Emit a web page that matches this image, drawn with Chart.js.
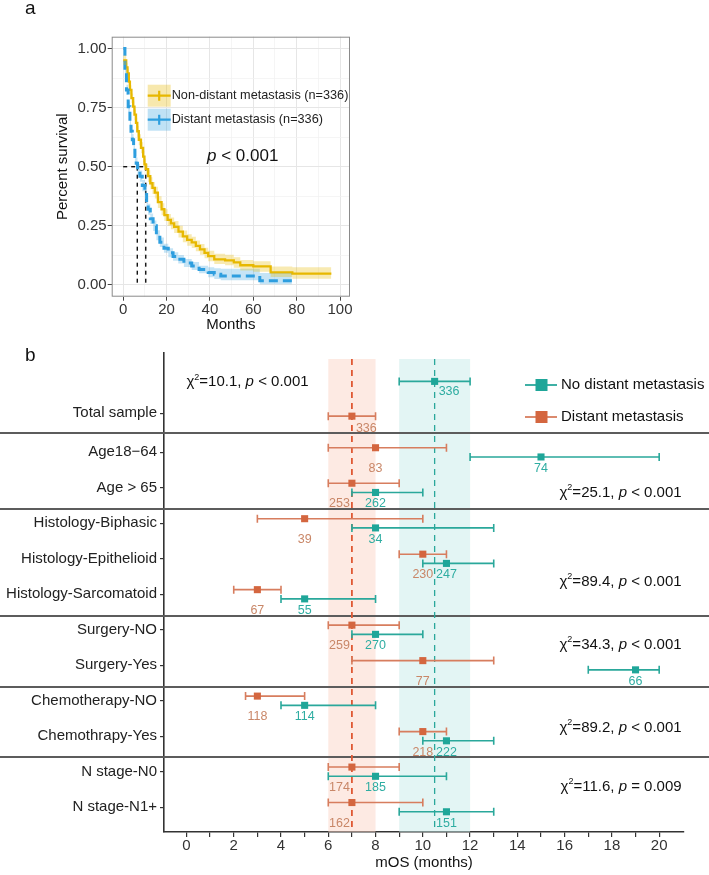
<!DOCTYPE html>
<html><head><meta charset="utf-8">
<script src="https://cdn.jsdelivr.net/npm/chart.js@4.4.1/dist/chart.umd.min.js"></script>
<style>
html,body{margin:0;padding:0;background:#fff;}
#wrap{position:relative;width:709px;height:875px;}
canvas{position:absolute;left:0;top:0;}
</style></head><body>
<div id="wrap"><canvas id="km" width="709" height="875"></canvas><canvas id="forest" width="709" height="875"></canvas></div>
<script>
// ---------------- Panel a: Kaplan-Meier data ----------------
const kmNonT  = [0, 1.4, 2.0, 2.6, 3.1, 3.8, 4.6, 5.2, 5.9, 6.5, 7.2, 8.2, 9.2, 9.8, 10.4, 11.5, 12.5, 13.5, 14.6, 16, 17.7, 19, 20.5, 22, 23.5, 25.5, 27.5, 29.5, 31.6, 33.5, 35.4, 37.5, 39.2, 42, 47, 51, 54, 60, 68, 78, 96];
const kmNonS  = [0.95, 0.92, 0.895, 0.86, 0.825, 0.79, 0.754, 0.72, 0.685, 0.65, 0.614, 0.58, 0.543, 0.51, 0.49, 0.46, 0.43, 0.41, 0.39, 0.35, 0.32, 0.295, 0.275, 0.26, 0.245, 0.225, 0.205, 0.19, 0.18, 0.165, 0.15, 0.135, 0.122, 0.108, 0.104, 0.095, 0.083, 0.078, 0.053, 0.048, 0.048];
const kmNonUp = [0.97, 0.94, 0.915, 0.88, 0.845, 0.81, 0.776, 0.742, 0.707, 0.673, 0.637, 0.603, 0.566, 0.534, 0.514, 0.485, 0.455, 0.435, 0.415, 0.375, 0.345, 0.32, 0.3, 0.285, 0.27, 0.25, 0.23, 0.214, 0.204, 0.188, 0.173, 0.157, 0.144, 0.132, 0.127, 0.117, 0.105, 0.1, 0.078, 0.075, 0.075];
const kmNonLo = [0.93, 0.9, 0.875, 0.84, 0.805, 0.77, 0.732, 0.698, 0.663, 0.627, 0.591, 0.557, 0.52, 0.486, 0.466, 0.435, 0.405, 0.385, 0.365, 0.325, 0.295, 0.27, 0.25, 0.235, 0.22, 0.2, 0.18, 0.166, 0.156, 0.142, 0.127, 0.113, 0.1, 0.088, 0.083, 0.073, 0.061, 0.056, 0.033, 0.026, 0.026];

const kmDisT  = [0, 0.8, 1.5, 2.3, 3.1, 3.6, 4.2, 4.8, 5.4, 6.0, 6.6, 7.7, 8.8, 10, 10.8, 11.5, 12.5, 13.8, 15.3, 16.9, 18.8, 20.8, 23, 25.4, 28, 31.6, 35, 39.2, 42, 45, 63, 77.8];
const kmDisS  = [1.0, 0.9, 0.825, 0.754, 0.684, 0.65, 0.614, 0.58, 0.543, 0.515, 0.487, 0.46, 0.42, 0.39, 0.35, 0.32, 0.28, 0.25, 0.21, 0.18, 0.155, 0.136, 0.12, 0.108, 0.093, 0.08, 0.065, 0.052, 0.045, 0.038, 0.017, 0.017];
const kmDisUp = [1.0, 0.92, 0.847, 0.777, 0.708, 0.674, 0.638, 0.604, 0.567, 0.539, 0.511, 0.484, 0.444, 0.414, 0.374, 0.343, 0.302, 0.272, 0.231, 0.2, 0.174, 0.155, 0.138, 0.126, 0.11, 0.097, 0.081, 0.075, 0.07, 0.068, 0.05, 0.05];
const kmDisLo = [1.0, 0.88, 0.803, 0.731, 0.66, 0.626, 0.59, 0.556, 0.519, 0.491, 0.463, 0.436, 0.396, 0.366, 0.326, 0.297, 0.258, 0.228, 0.189, 0.16, 0.136, 0.117, 0.102, 0.09, 0.076, 0.063, 0.049, 0.032, 0.025, 0.02, 0.003, 0.003];

const kmMedians = [10.4, 6.5];
const kmLegend = ['Non-distant metastasis (n=336)', 'Distant metastasis (n=336)'];
const kmPText = '< 0.001';
const kmXTicks = [0, 10, 20, 30, 40, 50, 60, 70, 80, 90, 100];
const kmYTicks = [0, 0.125, 0.25, 0.375, 0.5, 0.625, 0.75, 0.875, 1.0];

// ---------------- Panel b: forest plot data ----------------
const categories = ['Total sample', 'Age18\u221264', 'Age > 65', 'Histology-Biphasic', 'Histology-Epithelioid', 'Histology-Sarcomatoid', 'Surgery-NO', 'Surgery-Yes', 'Chemotherapy-NO', 'Chemothrapy-Yes', 'N stage-N0', 'N stage-N1+'];
const noDistMOS = [10.5, 15, 8, 8, 11, 5, 8, 19, 5, 11, 8, 11];
const noDistLo  = [9, 12, 7, 7, 10, 4, 7, 17, 4, 10, 6, 9];
const noDistHi  = [12, 20, 10, 13, 13, 8, 10, 20, 8, 13, 11, 13];
const noDistN   = [336, 74, 262, 34, 247, 55, 270, 66, 114, 222, 185, 151];
const distMOS = [7, 8, 7, 5, 10, 3, 7, 10, 3, 10, 7, 7];
const distLo  = [6, 6, 6, 3, 9, 2, 6, 7, 2.5, 9, 6, 6];
const distHi  = [8, 11, 9, 10, 11, 4, 9, 13, 5, 11, 9, 10];
const distN   = [336, 83, 253, 39, 230, 67, 259, 77, 118, 218, 174, 162];
const refMOS = [10.5, 7];   // overall median: no distant, distant
const refLo  = [9, 6];
const refHi  = [12, 8];
const groupChi = ['10.1', '25.1', '89.4', '34.3', '89.2', '11.6'];
const groupP   = ['< 0.001', '< 0.001', '< 0.001', '< 0.001', '< 0.001', '= 0.009'];
const groupLastIdx = [0, 2, 5, 7, 9, 11];
const seriesNames = ['No distant metastasis', 'Distant metastasis'];
const xTicksForest = [0,1,2,3,4,5,6,7,8,9,10,11,12,13,14,15,16,17,18,19,20];

// ---------------- layout (not data) ----------------
const rowPos = [1.9, 3, 4, 5, 6, 7, 8, 9, 10, 11, 12, 13];
const dodgeNo   = rowPos.map((r, i) => i === 0 ? -0.9 : 0.13);
const dodgeDist = rowPos.map((r, i) => i === 0 ? 0.08 : -0.13);
const alignNo   = ['left','center','center','center','center','center','center','center','center','center','center','center'];
const alignDist = ['left','center','right','center','center','center','right','center','center','center','right','right'];
const chiPos = [{x:0.0, y:1.02, align:'left'}, {x:20.95, y:4.14, align:'right'}, {x:20.95, y:6.65, align:'right'}, {x:20.95, y:8.43, align:'right'}, {x:20.95, y:10.76, align:'right'}, {x:20.95, y:12.43, align:'right'}];

const FONT = "'Liberation Sans', Arial, Helvetica, sans-serif";
Chart.defaults.font.family = FONT;
Chart.defaults.color = '#333';

const YEL = '#E7B800', BLU = '#2E9FDF';
const TEAL = '#1fa699', ORNG = '#d4663f';
const xy = (t, s) => t.map((v, i) => ({x: v, y: s[i]}));

// ======== Panel a ========
const kmDecor = {
  id: 'kmDecor',
  afterDraw(chart) {
    const {ctx, chartArea: a} = chart;
    ctx.save();
    ctx.strokeStyle = '#8a8a8a'; ctx.lineWidth = 1;
    ctx.strokeRect(a.left + 0.5, a.top + 0.5, a.right - a.left - 1, a.bottom - a.top - 1);
    // panel letter
    ctx.fillStyle = '#111'; ctx.font = '19px ' + FONT; ctx.textBaseline = 'alphabetic'; ctx.textAlign = 'left';
    ctx.fillText('a', 25, 14);
    // legend
    const cols = [[YEL, 'rgba(231,184,0,0.32)'], [BLU, 'rgba(46,159,223,0.30)']];
    const kx = a.left + 36, kw = 23, kh = 22;
    [a.top + 48, a.top + 72].forEach((ky, i) => {
      ctx.fillStyle = cols[i][1]; ctx.fillRect(kx, ky, kw, kh);
      ctx.strokeStyle = cols[i][0]; ctx.lineWidth = 2.2;
      ctx.beginPath(); ctx.moveTo(kx, ky + kh/2); ctx.lineTo(kx + kw, ky + kh/2);
      ctx.moveTo(kx + kw/2, ky + kh/2 - 5); ctx.lineTo(kx + kw/2, ky + kh/2 + 5); ctx.stroke();
      ctx.fillStyle = '#222'; ctx.font = '12.7px ' + FONT; ctx.textBaseline = 'middle'; ctx.textAlign = 'left';
      ctx.fillText(kmLegend[i], kx + kw + 1, ky + kh/2);
    });
    // p-value
    ctx.font = 'italic 17px ' + FONT; ctx.fillStyle = '#111'; ctx.textBaseline = 'middle';
    const px = 207, py = 156;
    ctx.fillText('p', px, py);
    const pw = ctx.measureText('p').width;
    ctx.font = '17px ' + FONT;
    ctx.fillText(' ' + kmPText, px + pw, py);
    ctx.restore();
  }
};

const medianSets = [];
medianSets.push({data: [{x: 0, y: 0.5}, {x: Math.max(...kmMedians), y: 0.5}]});
kmMedians.forEach(m => medianSets.push({data: [{x: m, y: 0.5}, {x: m, y: 0}]}));
medianSets.forEach(d => Object.assign(d, {borderColor: '#111', borderWidth: 1.4, borderDash: [4, 4], pointRadius: 0, fill: false}));

new Chart(document.getElementById('km'), {
  type: 'line',
  data: {
    datasets: [
      {data: xy(kmNonT, kmNonLo), stepped: true, borderWidth: 0, pointRadius: 0, fill: false},
      {data: xy(kmNonT, kmNonUp), stepped: true, borderWidth: 0, pointRadius: 0, fill: '-1', backgroundColor: 'rgba(231,184,0,0.30)'},
      {data: xy(kmDisT, kmDisLo), stepped: true, borderWidth: 0, pointRadius: 0, fill: false},
      {data: xy(kmDisT, kmDisUp), stepped: true, borderWidth: 0, pointRadius: 0, fill: '-1', backgroundColor: 'rgba(46,159,223,0.28)'},
      {data: xy(kmDisT, kmDisS), stepped: true, borderColor: BLU, borderWidth: 3, borderDash: [9, 5], pointRadius: 0, fill: false},
      {data: xy(kmNonT, kmNonS), stepped: true, borderColor: YEL, borderWidth: 2.3, pointRadius: 0, fill: false},
      ...medianSets
    ]
  },
  options: {
    responsive: false, animation: false, devicePixelRatio: 1,
    layout: {padding: {left: 54, top: 36.7, right: 359, bottom: 541}},
    plugins: {legend: {display: false}, tooltip: {enabled: false}},
    scales: {
      x: {
        type: 'linear', min: -5.3, max: 104.6,
        afterBuildTicks: s => { s.ticks = kmXTicks.map(v => ({value: v})); },
        afterFit: s => { s.height = 37.3; },
        border: {display: false},
        grid: {
          color: c => (c.tick && c.tick.value % 20 === 0) ? '#e6e6e6' : '#f1f1f1',
          lineWidth: c => (c.tick && c.tick.value % 20 === 0) ? 1 : 0.7,
          tickColor: c => (c.tick && c.tick.value % 20 === 0) ? '#444' : 'rgba(0,0,0,0)',
          tickLength: 4
        },
        ticks: {callback: v => v % 20 === 0 ? String(v) : '', font: {size: 15}, color: '#333', padding: 0, autoSkip: false, maxRotation: 0},
        title: {display: true, text: 'Months', font: {size: 15}, color: '#111', padding: 0}
      },
      y: {
        type: 'linear', min: -0.05, max: 1.05,
        afterBuildTicks: s => { s.ticks = kmYTicks.map(v => ({value: v})); },
        afterFit: s => { s.width = 57.7; },
        border: {display: false},
        grid: {
          color: c => (c.tick && Math.abs(c.tick.value * 4 - Math.round(c.tick.value * 4)) < 1e-9) ? '#e6e6e6' : '#f1f1f1',
          lineWidth: c => (c.tick && Math.abs(c.tick.value * 4 - Math.round(c.tick.value * 4)) < 1e-9) ? 1 : 0.7,
          tickColor: c => (c.tick && Math.abs(c.tick.value * 4 - Math.round(c.tick.value * 4)) < 1e-9) ? '#444' : 'rgba(0,0,0,0)',
          tickLength: 4
        },
        ticks: {callback: v => Math.abs(v * 4 - Math.round(v * 4)) < 1e-9 ? v.toFixed(2) : '', font: {size: 15}, color: '#333', padding: 1, autoSkip: false},
        title: {display: true, text: 'Percent survival', font: {size: 15}, color: '#111', padding: 0}
      }
    }
  },
  plugins: [kmDecor]
});

// ======== Panel b ========
function drawChi(ctx, x, y, chi, p, align) {
  const parts = [
    {t: '\u03C7', f: '15px ' + FONT, dy: 0},
    {t: '2', f: '9px ' + FONT, dy: -5},
    {t: '=' + chi + ', ', f: '15px ' + FONT, dy: 0},
    {t: 'p', f: 'italic 15px ' + FONT, dy: 0},
    {t: ' ' + p, f: '15px ' + FONT, dy: 0}
  ];
  let total = 0;
  parts.forEach(pt => { ctx.font = pt.f; pt.w = ctx.measureText(pt.t).width; total += pt.w; });
  let cx = align === 'right' ? x - total : x;
  ctx.textAlign = 'left'; ctx.textBaseline = 'middle'; ctx.fillStyle = '#111';
  parts.forEach(pt => { ctx.font = pt.f; ctx.fillText(pt.t, cx, y + pt.dy); cx += pt.w; });
}

const forestDecor = {
  id: 'forestDecor',
  beforeDatasetsDraw(chart) {
    const {ctx, chartArea: a, scales: {x, y}} = chart;
    ctx.save();
    // reference bands
    const bandCols = ['rgba(200,236,234,0.5)', 'rgba(252,214,200,0.5)'];
    refMOS.forEach((m, k) => {
      const x0 = x.getPixelForValue(refLo[k]), x1 = x.getPixelForValue(refHi[k]);
      ctx.fillStyle = bandCols[k];
      ctx.fillRect(x0, a.top + 6, x1 - x0, a.bottom - a.top - 6);
    });
    // group separators
    ctx.strokeStyle = '#5c5c5c'; ctx.lineWidth = 2;
    groupLastIdx.slice(0, -1).forEach((gi, k) => {
      const v = (rowPos[gi] + rowPos[gi + 1]) / 2 + (k === 0 ? 0 : 0.1);
      const py = Math.round(y.getPixelForValue(v));
      ctx.beginPath(); ctx.moveTo(0, py); ctx.lineTo(709, py); ctx.stroke();
    });
    // reference dashed lines
    const dashCols = ['#2aa79b', '#e05a35'];
    const dashW = [1.3, 1.8];
    refMOS.forEach((m, k) => {
      const px = x.getPixelForValue(m);
      ctx.strokeStyle = dashCols[k]; ctx.lineWidth = dashW[k]; ctx.setLineDash([6, 5]);
      ctx.beginPath(); ctx.moveTo(px, a.top + 6); ctx.lineTo(px, a.bottom); ctx.stroke();
    });
    ctx.setLineDash([]);
    // error bars
    const bars = [
      {lo: noDistLo, hi: noDistHi, dodge: dodgeNo, col: '#2aa89b'},
      {lo: distLo, hi: distHi, dodge: dodgeDist, col: '#d77d5e'}
    ];
    bars.forEach(b => {
      ctx.strokeStyle = b.col; ctx.lineWidth = 1.6;
      categories.forEach((c, i) => {
        const py = y.getPixelForValue(rowPos[i] + b.dodge[i]);
        const x0 = x.getPixelForValue(b.lo[i]), x1 = x.getPixelForValue(b.hi[i]);
        ctx.beginPath();
        ctx.moveTo(x0, py); ctx.lineTo(x1, py);
        ctx.moveTo(x0, py - 4); ctx.lineTo(x0, py + 4);
        ctx.moveTo(x1, py - 4); ctx.lineTo(x1, py + 4);
        ctx.stroke();
      });
    });
    ctx.restore();
  },
  afterDatasetsDraw(chart) {
    const {ctx, chartArea: a, scales: {x, y}} = chart;
    ctx.save();
    // n labels
    const sets = [
      {mos: noDistMOS, n: noDistN, dodge: dodgeNo, align: alignNo, col: '#2fada2'},
      {mos: distMOS, n: distN, dodge: dodgeDist, align: alignDist, col: '#c98768'}
    ];
    ctx.font = '12.5px ' + FONT; ctx.textBaseline = 'middle';
    sets.forEach((s, si) => {
      categories.forEach((c, i) => {
        const mx = x.getPixelForValue(s.mos[i]);
        let ly;
        if (i === 0) ly = y.getPixelForValue(rowPos[i] + s.dodge[i]) + (si === 0 ? 10 : 12);
        else ly = y.getPixelForValue(rowPos[i]) + 16;
        let lx = mx;
        if (s.align[i] === 'left') { ctx.textAlign = 'left'; lx = mx + 4; }
        else if (s.align[i] === 'right') { ctx.textAlign = 'right'; lx = mx - 2; }
        else ctx.textAlign = 'center';
        ctx.fillStyle = s.col;
        ctx.fillText(String(s.n[i]), lx, ly);
      });
    });
    // chi-square annotations
    groupChi.forEach((c, g) => {
      const pos = chiPos[g];
      drawChi(ctx, x.getPixelForValue(pos.x), y.getPixelForValue(pos.y), c, groupP[g], pos.align);
    });
    // legend
    const legCols = [TEAL, ORNG];
    const legLine = ['#2aa89b', '#d77d5e'];
    [385, 417].forEach((ly, k) => {
      ctx.strokeStyle = legLine[k]; ctx.lineWidth = 1.8;
      ctx.beginPath(); ctx.moveTo(525, ly); ctx.lineTo(557, ly); ctx.stroke();
      ctx.fillStyle = legCols[k]; ctx.fillRect(535.5, ly - 6, 12, 12);
      ctx.fillStyle = '#111'; ctx.font = '15px ' + FONT; ctx.textAlign = 'left'; ctx.textBaseline = 'middle';
      ctx.fillText(seriesNames[k], 561, ly);
    });
    // panel letter
    ctx.fillStyle = '#111'; ctx.font = '19px ' + FONT; ctx.textAlign = 'left'; ctx.textBaseline = 'alphabetic';
    ctx.fillText('b', 25, 361);
    ctx.restore();
  }
};

new Chart(document.getElementById('forest'), {
  type: 'scatter',
  data: {
    datasets: [
      {label: seriesNames[1], data: distMOS.map((v, i) => ({x: v, y: rowPos[i] + dodgeDist[i]})), pointStyle: 'rect', pointRadius: 5, backgroundColor: ORNG, borderWidth: 0},
      {label: seriesNames[0], data: noDistMOS.map((v, i) => ({x: v, y: rowPos[i] + dodgeNo[i]})), pointStyle: 'rect', pointRadius: 5, backgroundColor: TEAL, borderWidth: 0}
    ]
  },
  options: {
    responsive: false, animation: false, devicePixelRatio: 1,
    layout: {padding: {left: 0, top: 353, right: 25, bottom: 3}},
    plugins: {legend: {display: false}, tooltip: {enabled: false}},
    scales: {
      x: {
        type: 'linear', min: -0.95, max: 21.05,
        afterBuildTicks: s => { s.ticks = xTicksForest.map(v => ({value: v})); },
        afterFit: s => { s.height = 40; },
        border: {display: true, color: '#333', width: 1.6},
        grid: {drawOnChartArea: false, tickColor: '#333', tickLength: 5, lineWidth: 1.2},
        ticks: {callback: v => v % 2 === 0 ? String(v) : '', font: {size: 15}, color: '#333', padding: 0, autoSkip: false, maxRotation: 0},
        title: {display: true, text: 'mOS (months)', font: {size: 15}, color: '#111', padding: 0}
      },
      y: {
        type: 'linear', reverse: true, min: 0.2, max: 13.7,
        afterBuildTicks: s => { s.ticks = rowPos.map(v => ({value: v})); },
        afterFit: s => { s.width = 164; },
        border: {display: true, color: '#333', width: 1.6},
        grid: {drawOnChartArea: false, tickColor: '#333', tickLength: 4, lineWidth: 1.2},
        ticks: {callback: (v, i) => categories[i], font: {size: 15}, color: '#222', padding: 3, autoSkip: false}
      }
    }
  },
  plugins: [forestDecor]
});
</script>
</body></html>
